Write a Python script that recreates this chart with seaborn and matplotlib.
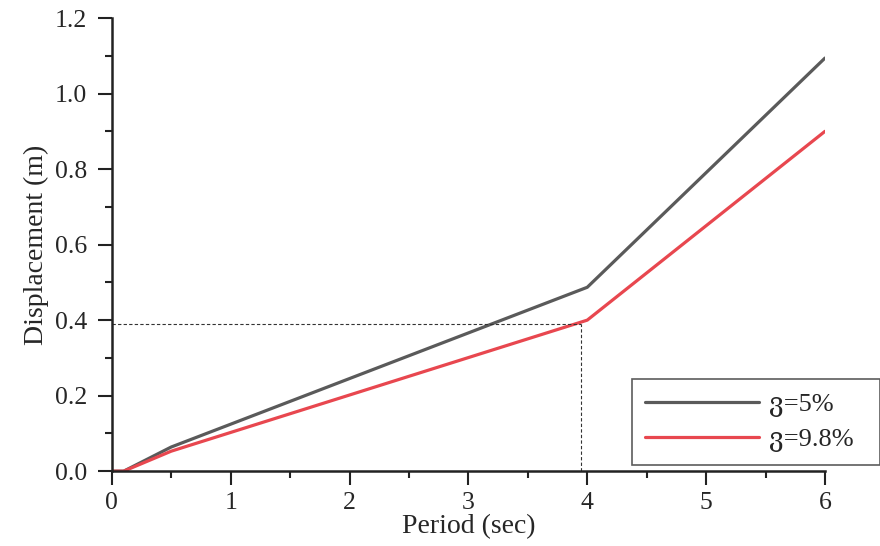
import seaborn as sns
import matplotlib.pyplot as plt
import pandas as pd
from matplotlib.ticker import MultipleLocator

# values
period = [0.0, 0.1, 0.5, 4.0, 6.0]
disp_5 = [0.0, 0.0, 0.064, 0.487, 1.094]
disp_98 = [0.0, 0.0, 0.053, 0.400, 0.900]
labels = ["ვ=5%", "ვ=9.8%"]
mark_period = 3.95
mark_disp = 0.389

df = pd.concat([
    pd.DataFrame({"Period": period, "Disp": disp_5, "case": labels[0]}),
    pd.DataFrame({"Period": period, "Disp": disp_98, "case": labels[1]}),
])

sns.set_style("ticks")
plt.rcParams["font.family"] = ["Liberation Serif", "DejaVu Serif", "DejaVu Sans"]

fig = plt.figure(figsize=(8.8, 5.46), dpi=100)
ax = fig.add_axes([0.127, 0.137, 0.8105, 0.830])

sns.lineplot(data=df, x="Period", y="Disp", hue="case",
             palette=["#5a5a5a", "#e8474f"], linewidth=2.3, ax=ax)

# dashed guide lines
ax.plot([0, mark_period], [mark_disp, mark_disp], color="#333333", lw=0.8, dashes=(3, 2))
ax.plot([mark_period, mark_period], [0, mark_disp], color="#333333", lw=0.8, dashes=(3, 2))

ax.set_xlim(0, 6)
ax.set_ylim(0, 1.2)
ax.xaxis.set_major_locator(MultipleLocator(1))
ax.xaxis.set_minor_locator(MultipleLocator(0.5))
ax.yaxis.set_major_locator(MultipleLocator(0.2))
ax.yaxis.set_minor_locator(MultipleLocator(0.1))
ax.yaxis.set_major_formatter(plt.FormatStrFormatter("%.1f"))
ax.tick_params(which="major", length=10, width=1.5, color="#222222", labelsize=18.5)
ax.tick_params(axis="y", which="major", pad=8)
ax.tick_params(axis="x", which="major", pad=5)
ax.tick_params(which="minor", length=5, width=1.5, color="#222222")
for side in ["left", "bottom"]:
    ax.spines[side].set_linewidth(1.8)
    ax.spines[side].set_color("#222222")
sns.despine(ax=ax)

ax.set_xlabel("Period (sec)", fontsize=20, labelpad=0)
ax.set_ylabel("Displacement (m)", fontsize=20, labelpad=4)

leg = ax.legend(title=None, loc="lower left", bbox_to_anchor=(0.718, 0.148, 0.282, 0.170),
                bbox_transform=fig.transFigure, mode="expand", fontsize=19,
                frameon=True, fancybox=False, edgecolor="#333333", handlelength=4.3,
                handletextpad=0.4, borderaxespad=0, labelspacing=0.4, borderpad=0.5)
leg.get_frame().set_linewidth(1.2)
leg.set_clip_on(False)

fig.savefig("out.png", dpi=100)
